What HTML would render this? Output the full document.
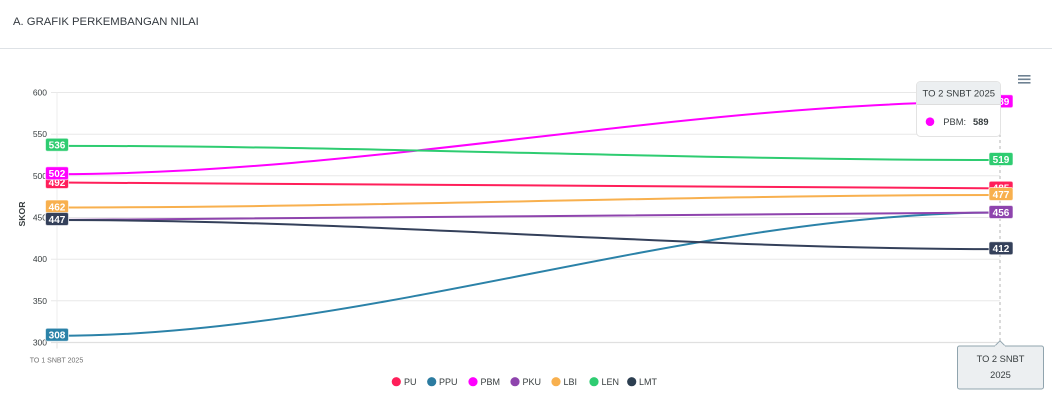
<!DOCTYPE html>
<html>
<head>
<meta charset="utf-8">
<style>
  html,body{margin:0;padding:0;background:#fff;}
  body{width:1052px;height:414px;overflow:hidden;font-family:"Liberation Sans",sans-serif;}
  svg{display:block;}
</style>
</head>
<body>
<svg width="1052" height="414" viewBox="0 0 1052 414" xmlns="http://www.w3.org/2000/svg" font-family="Liberation Sans, sans-serif">
  <!-- header -->
  <text x="13" y="25" font-size="11.3" fill="#343a40">A. GRAFIK PERKEMBANGAN NILAI</text>
  <line x1="0" y1="48.5" x2="1052" y2="48.5" stroke="#dee2e6" stroke-width="1"/>

  <!-- hamburger -->
  <g stroke="#6e8192" stroke-width="1.6">
    <line x1="1018" y1="75.8" x2="1030.5" y2="75.8"/>
    <line x1="1018" y1="79.3" x2="1030.5" y2="79.3"/>
    <line x1="1018" y1="82.8" x2="1030.5" y2="82.8"/>
  </g>

  <!-- grid -->
  <g stroke="#e8e8e8" stroke-width="1">
    <line x1="51" y1="92.5" x2="1000" y2="92.5"/>
    <line x1="51" y1="134.2" x2="1000" y2="134.2"/>
    <line x1="51" y1="175.8" x2="1000" y2="175.8"/>
    <line x1="51" y1="217.5" x2="1000" y2="217.5"/>
    <line x1="51" y1="259.2" x2="1000" y2="259.2"/>
    <line x1="51" y1="300.8" x2="1000" y2="300.8"/>
  </g>
  <line x1="57" y1="92.5" x2="57" y2="342.5" stroke="#ececec" stroke-width="1"/>
  <line x1="51" y1="342.5" x2="1000" y2="342.5" stroke="#e0e0e0" stroke-width="1.2"/>
  <line x1="57" y1="342.5" x2="57" y2="348.5" stroke="#e0e0e0" stroke-width="1"/>
  <!-- crosshair -->
  <line x1="1000" y1="92" x2="1000" y2="342" stroke="#b6b6b6" stroke-width="1" stroke-dasharray="3,3"/>

  <!-- y tick labels -->
  <g font-size="8.5" fill="#373d3f" text-anchor="end">
    <text x="47" y="95.5">600</text>
    <text x="47" y="137.2">550</text>
    <text x="47" y="178.8">500</text>
    <text x="47" y="220.5">450</text>
    <text x="47" y="262.2">400</text>
    <text x="47" y="303.8">350</text>
    <text x="47" y="345.5">300</text>
  </g>
  <text transform="translate(25,214) rotate(-90)" font-size="8.7" font-weight="bold" fill="#373d3f" text-anchor="middle">SKOR</text>
  <text x="56.5" y="362.5" font-size="7" fill="#707070" text-anchor="middle">TO 1 SNBT 2025</text>

  <!-- series lines -->
  <g fill="none" stroke-width="2" stroke-linecap="round">
    <path d="M57,182.5 C371.5,182.5 686,188.33 1000.5,188.33" stroke="#ff1f5a"/>
    <path d="M57,335.83 C371.5,335.83 686,212.5 1000.5,212.5" stroke="#2b82a8"/>
    <path d="M57,174.17 C371.5,174.17 686,101.67 1000.5,101.67" stroke="#ff00ff"/>
    <path d="M57,220 C371.5,220 686,212.5 1000.5,212.5" stroke="#8e44ad"/>
    <path d="M57,207.5 C371.5,207.5 686,195 1000.5,195" stroke="#f8b04e"/>
    <path d="M57,145.83 C371.5,145.83 686,160 1000.5,160" stroke="#2ecc71"/>
    <path d="M57,220 C371.5,220 686,249.17 1000.5,249.17" stroke="#34405a"/>
  </g>

  <!-- data labels -->
  <g font-size="10" font-weight="bold" fill="#fff" text-anchor="middle">
    <!-- PU -->
    <rect x="45.5" y="175.5" width="23" height="13" rx="2" fill="#ff1f5a" stroke="#fff" stroke-opacity="0.6"/>
    <text x="57" y="185.8">492</text>
    <rect x="989" y="181.3" width="24" height="13" rx="2" fill="#ff1f5a" stroke="#fff" stroke-opacity="0.6"/>
    <text x="1001" y="191.6">485</text>
    <!-- PPU -->
    <rect x="45.5" y="328.3" width="23" height="13" rx="2" fill="#2b82a8" stroke="#fff" stroke-opacity="0.6"/>
    <text x="57" y="338.6">308</text>
    <rect x="989" y="205.5" width="24" height="13" rx="2" fill="#2b82a8" stroke="#fff" stroke-opacity="0.6"/>
    <text x="1001" y="215.8">456</text>
    <!-- PBM -->
    <rect x="45.5" y="166.7" width="23" height="13" rx="2" fill="#ff00ff" stroke="#fff" stroke-opacity="0.6"/>
    <text x="57" y="177">502</text>
    <rect x="989" y="94.7" width="24" height="13" rx="2" fill="#ff00ff" stroke="#fff" stroke-opacity="0.6"/>
    <text x="1001" y="105">589</text>
    <!-- PKU -->
    <rect x="45.5" y="212.5" width="23" height="13" rx="2" fill="#8e44ad" stroke="#fff" stroke-opacity="0.6"/>
    <text x="57" y="222.8">447</text>
    <rect x="989" y="205.5" width="24" height="13" rx="2" fill="#8e44ad" stroke="#fff" stroke-opacity="0.6"/>
    <text x="1001" y="215.8">456</text>
    <!-- LBI -->
    <rect x="45.5" y="200" width="23" height="13" rx="2" fill="#f8b04e" stroke="#fff" stroke-opacity="0.6"/>
    <text x="57" y="210.3">462</text>
    <rect x="989" y="187.5" width="24" height="13" rx="2" fill="#f8b04e" stroke="#fff" stroke-opacity="0.6"/>
    <text x="1001" y="197.8">477</text>
    <!-- LEN -->
    <rect x="45.5" y="138.3" width="23" height="13" rx="2" fill="#2ecc71" stroke="#fff" stroke-opacity="0.6"/>
    <text x="57" y="148.6">536</text>
    <rect x="989" y="152.5" width="24" height="13" rx="2" fill="#2ecc71" stroke="#fff" stroke-opacity="0.6"/>
    <text x="1001" y="162.8">519</text>
    <!-- LMT -->
    <rect x="45.5" y="212.5" width="23" height="13" rx="2" fill="#34405a" stroke="#fff" stroke-opacity="0.6"/>
    <text x="57" y="222.8">447</text>
    <rect x="989" y="241.7" width="24" height="13" rx="2" fill="#34405a" stroke="#fff" stroke-opacity="0.6"/>
    <text x="1001" y="252">412</text>
  </g>

  <!-- tooltip -->
  <rect x="916.5" y="81.5" width="84" height="55" rx="4" fill="#fff" stroke="#e3e3e3"/>
  <path d="M917,104 L917,85.5 Q917,82 920.5,82 L996.5,82 Q1000,82 1000,85.5 L1000,104 Z" fill="#eceff1"/>
  <line x1="917" y1="104.5" x2="1000" y2="104.5" stroke="#dddddd"/>
  <text x="922.5" y="96.5" font-size="9.5" fill="#373d3f">TO 2 SNBT 2025</text>
  <circle cx="930" cy="121.7" r="4.3" fill="#ff00ff"/>
  <text x="943.3" y="125" font-size="9.3" fill="#373d3f">PBM:</text>
  <text x="973" y="125" font-size="9.3" font-weight="bold" fill="#373d3f">589</text>

  <!-- x-axis tooltip -->
  <rect x="957.5" y="346" width="86" height="43" rx="2" fill="#eceff1" stroke="#90a4ae"/>
  <path d="M994.5,346.3 L1000,340.8 L1005.5,346.3" fill="#eceff1" stroke="#90a4ae"/>
  <rect x="995" y="345.5" width="10" height="1.5" fill="#eceff1"/>
  <g font-size="9.3" fill="#373d3f" text-anchor="middle">
    <text x="1000.5" y="362">TO 2 SNBT</text>
    <text x="1000.5" y="378">2025</text>
  </g>

  <!-- legend -->
  <g font-size="9" fill="#373d3f">
    <circle cx="396.3" cy="381.7" r="4.6" fill="#ff1f5a"/><text x="404" y="385">PU</text>
    <circle cx="431.7" cy="381.7" r="4.6" fill="#2b7ba0"/><text x="439" y="385">PPU</text>
    <circle cx="473" cy="381.7" r="4.6" fill="#ff00ff"/><text x="480.5" y="385">PBM</text>
    <circle cx="515" cy="381.7" r="4.6" fill="#8e44ad"/><text x="522.5" y="385">PKU</text>
    <circle cx="556" cy="381.7" r="4.6" fill="#f8b04e"/><text x="563.5" y="385">LBI</text>
    <circle cx="594" cy="381.7" r="4.6" fill="#2ecc71"/><text x="601.5" y="385">LEN</text>
    <circle cx="631.7" cy="381.7" r="4.6" fill="#2c3e50"/><text x="639" y="385">LMT</text>
  </g>
</svg>
</body>
</html>
